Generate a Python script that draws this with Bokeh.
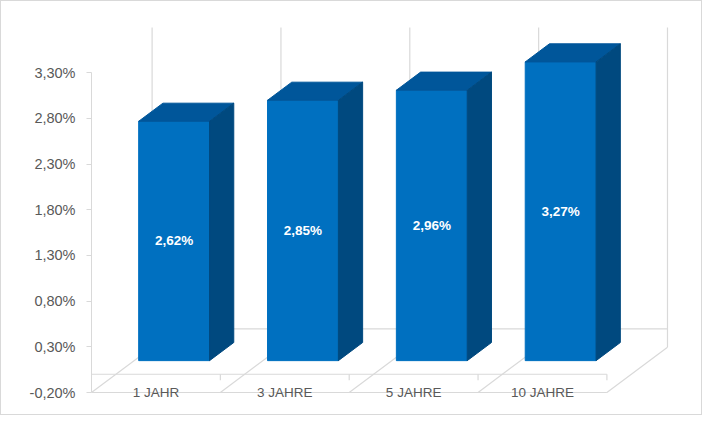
from bokeh.plotting import figure
from bokeh.models import LinearAxis, FixedTicker, CustomJSTickFormatter
from bokeh.core.properties import value
from bokeh.embed import file_html
from bokeh.resources import INLINE

# data
categories = ["1 JAHR", "3 JAHRE", "5 JAHRE", "10 JAHRE"]
rates = [2.62, 2.85, 2.96, 3.27]
y_ticks = [-0.2, 0.3, 0.8, 1.3, 1.8, 2.3, 2.8, 3.3]

# layout of the fake 3d box (pixels, inside the 1px css border)
W, H = 702, 415
B_LEFT, B_RIGHT, B_TOP, B_BOTTOM = 90, 18, 13, 10
FRONT_Y = 391.0      # pixel row of the front floor edge (y_ticks[0])
PX_CAT = 128.85      # pixels per category
PX_PCT = 91.35       # pixels per percent
DX = 60.6 / PX_CAT   # floor depth, in data units
DY = 45.3 / PX_PCT
F0, F1 = 0.3, 0.7    # bar depth, as fraction of floor depth
BAR_W = 0.55

FRONT = "#0070C0"
TOP = "#00569A"
SIDE = "#00497F"
GRID = "#D9D9D9"
TXT = "#595959"
FONT = value("Liberation Sans")

n = len(categories)
y_lo, y_hi = y_ticks[0], y_ticks[-1]
y_start = y_lo - (H - B_BOTTOM - FRONT_Y) / PX_PCT
y_end = y_start + (H - B_TOP - B_BOTTOM) / PX_PCT
x_end = (W - B_LEFT - B_RIGHT) / PX_CAT

p = figure(width=W, height=H, x_range=(0, x_end), y_range=(y_start, y_end),
           x_axis_location=None, y_axis_location=None,
           min_border_left=B_LEFT, min_border_right=B_RIGHT,
           min_border_top=B_TOP, min_border_bottom=B_BOTTOM,
           output_backend="svg", toolbar_location=None,
           styles={"border": "1px solid #D9D9D9"})
p.grid.visible = False
p.outline_line_color = None
p.background_fill_color = "white"
p.border_fill_color = "white"

# y axis on the front-left edge
yaxis = LinearAxis(ticker=FixedTicker(ticks=y_ticks),
                   formatter=CustomJSTickFormatter(code="return tick.toFixed(2).replace('.', ',') + '%';"),
                   bounds=(y_lo, y_hi))
yaxis.axis_line_color = GRID
yaxis.major_tick_line_color = GRID
yaxis.minor_tick_line_color = None
yaxis.major_tick_out = 5
yaxis.major_tick_in = 0
yaxis.major_label_standoff = 11
yaxis.major_label_text_color = TXT
yaxis.major_label_text_font = "Liberation Sans"
yaxis.major_label_text_font_size = "14.5px"
p.add_layout(yaxis, "left")

bounds = list(range(n + 1))

# back wall: zero line and category dividers
p.line([DX, n + DX], [DY, DY], line_color=GRID, line_width=1.2)
p.segment(x0=[k + DX for k in bounds], y0=[y_lo + DY] * (n + 1),
          x1=[k + DX for k in bounds], y1=[y_hi + DY] * (n + 1),
          line_color=GRID, line_width=1.2)
# floor: diagonals and front edge
p.segment(x0=bounds, y0=[y_lo] * (n + 1),
          x1=[k + DX for k in bounds], y1=[y_lo + DY] * (n + 1),
          line_color=GRID, line_width=1.2)
p.line([0, n], [y_lo, y_lo], line_color=GRID, line_width=1.2)
# front zero line with small ticks
p.line([0, n], [0, 0], line_color=GRID, line_width=1.2)
p.segment(x0=bounds[1:], y0=[0] * n, x1=bounds[1:], y1=[-6 / PX_PCT] * n,
          line_color=GRID, line_width=1.2)

# bars
fx, fy = F0 * DX, F0 * DY
bx, by = (F1 - F0) * DX, (F1 - F0) * DY
lefts = [i + 0.5 - BAR_W / 2 + fx for i in range(n)]
rights = [l + BAR_W for l in lefts]
tops = [v + fy for v in rates]

p.quad(left=lefts, right=rights, bottom=[fy] * n, top=tops,
       fill_color=FRONT, line_color=FRONT)
p.patches(xs=[[l, r, r + bx, l + bx] for l, r in zip(lefts, rights)],
          ys=[[t, t, t + by, t + by] for t in tops],
          fill_color=TOP, line_color=TOP)
p.patches(xs=[[r, r + bx, r + bx, r] for r in rights],
          ys=[[fy, fy + by, t + by, t] for t in tops],
          fill_color=SIDE, line_color=SIDE)

# value labels in the middle of each front face
p.text(x=[i + 0.5 + fx for i in range(n)], y=[v / 2 + fy for v in rates],
       text=[f"{v:.2f}".replace(".", ",") + "%" for v in rates],
       text_color="white", text_font=FONT, text_font_style="bold",
       text_font_size="13.5px", text_align="center", text_baseline="middle")

# category labels on the front edge of the floor
p.text(x=[i + 0.5 for i in range(n)], y=[y_lo] * n, text=categories,
       text_color=TXT, text_font=FONT, text_font_size="13.5px",
       text_align="center", text_baseline="middle")

open("out.html", "w").write(file_html(p, INLINE))
